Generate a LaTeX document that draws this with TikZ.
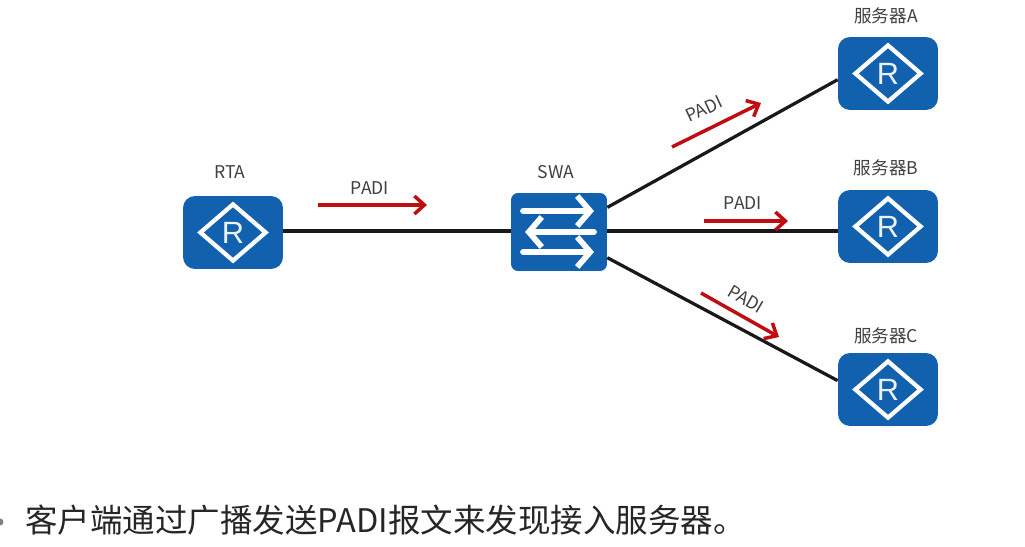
\documentclass[tikz,border=0pt]{standalone}
\usepackage{xcolor}
\usepackage{fontspec}
\usepackage{tikz}
\usetikzlibrary{shapes.geometric, arrows.meta}
\setmainfont{Noto Sans CJK SC}
\definecolor{iconblue}{HTML}{1261AE}
\definecolor{padired}{HTML}{C00D12}
\definecolor{labelgray}{HTML}{404040}
\definecolor{textgray}{HTML}{262626}

\begin{document}
\begin{tikzpicture}[x=0.02cm, y=-0.02cm,
    device/.style={rectangle, rounded corners=0.24cm, fill=iconblue, minimum width=2cm, minimum height=1.46cm, inner sep=0pt},
    switchbox/.style={device, rounded corners=0.14cm, minimum width=1.92cm, minimum height=1.56cm},
    routermark/.style={diamond, draw=white, line width=0.085cm, minimum width=1.34cm, minimum height=1.16cm, inner sep=0pt, text=white!92!iconblue, font=\fontsize{17.5}{18}\selectfont\fontspec{Liberation Sans}},
    devlabel/.style={text=labelgray, inner sep=0pt, font=\fontsize{10}{12}\selectfont},
    link/.style={black!90, line width=0.065cm},
    padi/.style={padired, line width=0.07cm, -{Straight Barb[length=0.2cm, width=0.36cm]}},
    whitearrow/.style={white, line width=0.115cm, line cap=round, -{Straight Barb[length=0.26cm, width=0.6cm]}}]
    \useasboundingbox (0,0) rectangle (1025,547);

    % Router on the left
    \node[device] (rta) at (233,232.5) {};
    \node[routermark] (rtamark) at (233,232.5) {R};
    \node[devlabel] (rtalabel) at (230,172) {RTA};

    % Switch in the middle
    \node[switchbox] (swa) at (559,232) {};
    \node[devlabel] (swalabel) at (556,172) {SWA};
    \coordinate (swt1) at (523,211);
    \coordinate (swh1) at (594,211);
    \coordinate (swt2) at (594,232);
    \coordinate (swh2) at (525,232);
    \coordinate (swt3) at (523,252);
    \coordinate (swh3) at (594,252);
    \draw[whitearrow] (swt1) -- (swh1);
    \draw[whitearrow] (swt2) -- (swh2);
    \draw[whitearrow] (swt3) -- (swh3);

    % Servers on the right
    \node[device] (srva) at (888,73.5) {};
    \node[routermark] (srvamark) at (888,73.5) {R};
    \node[devlabel] (srvalabel) at (886,16) {服务器A};
    \node[device] (srvb) at (888,226.5) {};
    \node[routermark] (srvbmark) at (888,226.5) {R};
    \node[devlabel] (srvblabel) at (886,168) {服务器B};
    \node[device] (srvc) at (888,389.5) {};
    \node[routermark] (srvcmark) at (888,389.5) {R};
    \node[devlabel] (srvclabel) at (886,336) {服务器C};

    % Links
    \draw[link] (rta.east |- 0,231) -- (swa.west |- 0,231);
    \draw[link] (swa.27.5) -- (srva.187.4);
    \draw[link] (swa.east |- 0,231) -- (srvb.west |- 0,231);
    \draw[link] (swa.-28.4) -- (srvc.170.4);

    % PADI arrows and their labels
    \coordinate (pa1) at (318,205);
    \coordinate (pb1) at (427,205);
    \coordinate (pa2) at (672,147);
    \coordinate (pb2) at (761,103);
    \coordinate (pa3) at (704,221);
    \coordinate (pb3) at (788,221);
    \coordinate (pa4) at (701,293);
    \coordinate (pb4) at (779,337);
    \draw[padi] (pa1) -- (pb1);
    \draw[padi] (pa2) -- (pb2);
    \draw[padi] (pa3) -- (pb3);
    \draw[padi] (pa4) -- (pb4);
    \node[devlabel] (padi1) at (370,188) {PADI};
    \node[devlabel, rotate=25] (padi2) at (704,109) {PADI};
    \node[devlabel] (padi3) at (743,203) {PADI};
    \node[devlabel, rotate=-30] (padi4) at (746,299) {PADI};

    % Caption at the bottom
    \node[circle, fill=gray, inner sep=0pt, minimum size=0.14cm] (bullet) at (0,522) {};
    \node[anchor=west, text=textgray, inner sep=0pt, font=\fontsize{18.5}{22}\selectfont] (caption) at (25,520) {客户端通过广播发送PADI报文来发现接入服务器。};
\end{tikzpicture}
\end{document}
